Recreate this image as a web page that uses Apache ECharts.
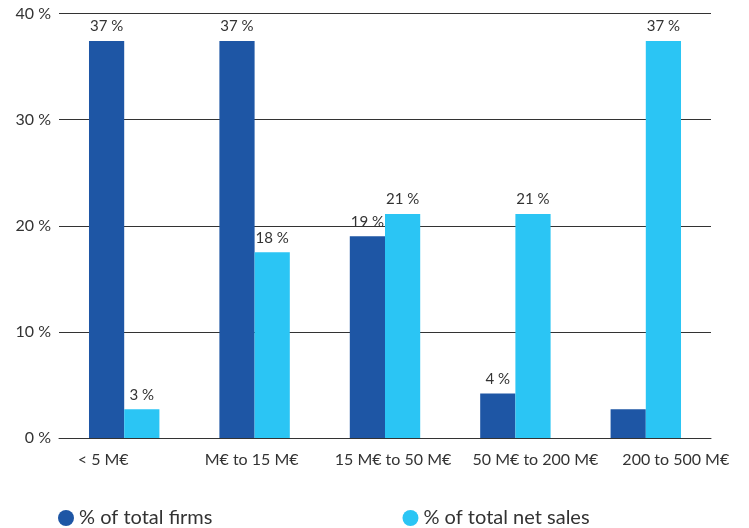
<!DOCTYPE html>
<html><head><meta charset="utf-8">
<script src="https://cdn.jsdelivr.net/npm/echarts@6/dist/echarts.min.js"></script>
<style>html,body{margin:0;padding:0;background:#fff}#c{width:749px;height:528px}</style>
</head><body><div id="c"></div>
<script>
var categories = ['< 5 M€', 'M€ to 15 M€', '15 M€ to 50 M€', '50 M€ to 200 M€', '200 to 500 M€'];
var firms = [37.4, 37.4, 19.0, 4.2, 2.7];
var sales = [2.7, 17.5, 21.1, 21.1, 37.4];
var firmsLabels = ['37 %', '37 %', '19 %', '4 %', ''];
var salesLabels = ['3 %', '18 %', '21 %', '21 %', '37 %'];
var yTicks = [0, 10, 20, 30, 40];
var seriesNames = ['% of total firms', '% of total net sales'];

var labelShift = [-21, -3, 8, 20, 30];
var FONT = 'Lato';
var chart = echarts.init(document.getElementById('c'));
chart.setOption({
  animation: false,
  textStyle: {fontFamily: FONT},
  grid: {left: 59, right: 38, top: 13.5, bottom: 90},
  legend: {
    left: 53, top: 503, itemGap: 190, icon: 'circle', itemWidth: 16, itemHeight: 16,
    textStyle: {fontFamily: FONT, fontSize: 20, color: '#333'},
    data: seriesNames
  },
  xAxis: {
    type: 'category',
    data: categories.map(function (c, i) {
      var d = labelShift[i];
      return {value: c, textStyle: {padding: d >= 0 ? [0, 0, 0, 2 * d] : [0, -2 * d, 0, 0]}};
    }),
    axisLine: {show: true, lineStyle: {color: '#333', width: 1}},
    axisTick: {show: false},
    axisLabel: {color: '#333', fontSize: 16, margin: 14, fontFamily: FONT, interval: 0}
  },
  yAxis: {
    type: 'value', min: yTicks[0], max: yTicks[yTicks.length - 1], interval: 10,
    axisLine: {show: false}, axisTick: {show: false},
    splitLine: {lineStyle: {color: '#333', width: 1}},
    axisLabel: {color: '#333', fontSize: 16, margin: 8, fontFamily: FONT, formatter: function (v) { return v + ' %'; }}
  },
  series: [
    {
      name: seriesNames[0], type: 'bar', data: firms, barWidth: '27%', barGap: '0%',
      itemStyle: {color: '#1e56a5'},
      label: {show: true, position: 'top', distance: 7, color: '#333', fontSize: 15, fontFamily: FONT,
        formatter: function (p) { return firmsLabels[p.dataIndex]; }}
    },
    {
      name: seriesNames[1], type: 'bar', data: sales, barWidth: '27%', barGap: '0%',
      itemStyle: {color: '#2bc5f4'},
      label: {show: true, position: 'top', distance: 7, color: '#333', fontSize: 15, fontFamily: FONT,
        formatter: function (p) { return salesLabels[p.dataIndex]; }}
    }
  ]
});
</script></body></html>
